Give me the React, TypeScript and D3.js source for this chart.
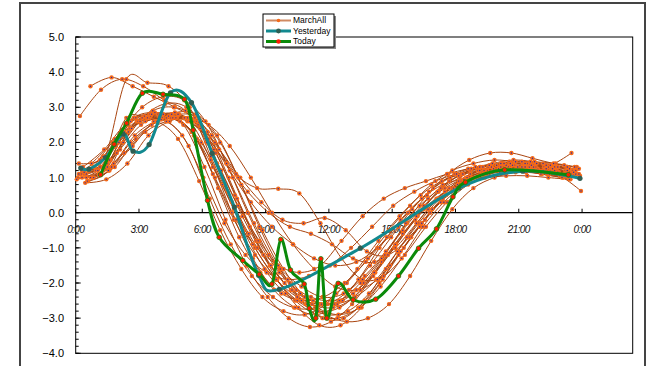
import * as d3 from 'd3';

// hour of day for each x tick (0..24, every 3h) and the label shown
const xTickHours = [0, 3, 6, 9, 12, 15, 18, 21, 24];
const xTickLabels = ['0:00', '3:00', '6:00', '9:00', '12:00', '15:00', '18:00', '21:00', '0:00'];
const yTicks = [5, 4, 3, 2, 1, 0, -1, -2, -3, -4];

// March days: hourly samples, each day shifted by its own offset (hours)
const marchOffsets = [0.5, 0.2, 0.7, 0.4, 0.9, 0.3, 0.6, 0.8, 0.1, 0.55, 0.35, 0.75, 0.45, 0.65, 0.25, 0.85, 0.15, 0.5, 0.95, 0.05, 0.7, 0.4, 0.6, 0.3, 0.85, 0.15];
const marchValues = [
  [1.0, 1.3, 2.3, 2.7, 2.75, 2.3, 1.1, -0.2, -1.2, -1.9, -2.4, -2.6, -2.5, -2.0, -1.3, -0.5, 0.2, 0.7, 1.0, 1.2, 1.3, 1.3, 1.2, 1.1],
  [2.75, 3.5, 3.8, 3.6, 3.2, 2.9, 2.0, 0.6, -0.6, -1.5, -2.2, -2.6, -2.7, -2.4, -1.7, -0.9, -0.1, 0.6, 1.0, 1.3, 1.4, 1.4, 1.3, 1.2],
  [3.6, 3.85, 3.6, 3.3, 3.0, 2.6, 1.4, 0.2, -0.8, -1.6, -2.1, -2.4, -2.3, -1.8, -1.1, -0.3, 0.4, 0.9, 1.2, 1.35, 1.4, 1.35, 1.3, 1.2],
  [1.1, 1.6, 3.8, 3.7, 3.6, 3.0, 1.6, 0.3, -0.9, -1.8, -2.5, -2.9, -3.0, -2.7, -2.0, -1.1, -0.3, 0.4, 0.9, 1.2, 1.35, 1.4, 1.3, 1.25],
  [1.3, 1.9, 2.6, 2.8, 2.8, 2.4, 1.2, -0.1, -1.2, -2.0, -2.6, -2.9, -2.8, -2.3, -1.5, -0.7, 0.1, 0.7, 1.0, 1.2, 1.3, 1.25, 1.15, 1.05],
  [1.2, 1.6, 2.3, 2.6, 2.7, 2.6, 2.1, 1.2, 0.3, -0.4, -0.9, -1.3, -1.5, -1.4, -1.0, -0.4, 0.2, 0.7, 1.1, 1.3, 1.4, 1.4, 1.35, 1.3],
  [0.9, 1.2, 2.0, 2.5, 2.7, 2.6, 2.0, 1.1, 0.7, 0.68, 0.55, -0.3, -1.3, -1.9, -1.8, -1.2, -0.4, 0.3, 0.8, 1.1, 1.25, 1.3, 1.2, 1.1],
  [1.0, 1.4, 2.2, 2.6, 2.7, 2.5, 1.8, 1.0, 0.3, -0.2, -0.3, -0.15, -0.5, -1.1, -1.2, -0.7, 0.0, 0.6, 1.0, 1.25, 1.35, 1.3, 1.2, 1.1],
  [1.0, 1.1, 1.8, 2.5, 2.7, 2.5, 1.3, -0.2, -1.5, -2.4, -3.0, -3.25, -3.1, -2.6, -1.8, -1.0, -0.2, 0.4, 0.8, 1.05, 1.15, 1.2, 1.1, 1.0],
  [0.9, 1.2, 2.4, 2.75, 2.8, 2.6, 1.8, 0.5, -0.8, -1.9, -2.7, -3.2, -3.2, -2.7, -1.9, -1.0, -0.2, 0.5, 1.0, 1.3, 1.45, 1.45, 1.35, 1.2],
  [1.3, 1.8, 2.5, 2.7, 2.6, 1.9, 0.4, -0.9, -1.8, -2.4, -2.7, -2.7, -2.3, -1.6, -0.8, -0.1, 0.5, 0.9, 1.1, 1.2, 1.2, 1.15, 1.1, 1.0],
  [1.4, 2.0, 2.7, 2.85, 2.7, 2.1, 0.7, -0.7, -1.7, -2.3, -2.5, -2.4, -2.0, -1.4, -0.7, 0.0, 0.6, 1.0, 1.25, 1.4, 1.5, 1.45, 1.4, 1.3],
  [0.85, 0.95, 1.4, 2.2, 2.6, 2.7, 2.2, 1.0, -0.3, -1.4, -2.2, -2.7, -2.9, -2.7, -2.1, -1.3, -0.4, 0.3, 0.8, 1.1, 1.2, 1.2, 1.1, 0.95],
  [1.2, 1.5, 2.4, 2.9, 3.0, 2.7, 1.7, 0.4, -0.8, -1.7, -2.3, -2.6, -2.5, -2.0, -1.2, -0.3, 0.5, 1.1, 1.5, 1.7, 1.7, 1.55, 1.4, 1.3],
  [1.1, 1.3, 2.0, 2.75, 3.1, 3.0, 2.3, 1.0, -0.4, -1.5, -2.2, -2.5, -2.6, -2.4, -1.9, -1.1, -0.3, 0.4, 0.9, 1.15, 1.3, 1.3, 1.25, 1.15],
  [1.0, 1.3, 2.1, 2.6, 2.8, 2.7, 2.0, 0.8, -0.5, -1.6, -2.4, -2.9, -3.1, -3.0, -2.6, -1.8, -0.8, 0.1, 0.7, 1.0, 1.15, 1.2, 1.15, 1.1],
  [1.4, 1.5, 2.3, 3.0, 3.3, 3.2, 2.6, 1.4, 0.0, -1.2, -2.0, -2.4, -2.5, -2.3, -1.7, -0.9, -0.1, 0.6, 1.05, 1.3, 1.4, 1.45, 1.4, 1.35],
  [1.1, 1.4, 2.5, 2.8, 2.7, 2.3, 1.3, 0.1, -1.0, -1.9, -2.5, -2.8, -2.7, -2.2, -1.4, -0.6, 0.1, 0.6, 0.9, 1.1, 1.2, 1.3, 1.35, 1.7],
  [1.2, 1.7, 2.6, 2.75, 2.6, 2.0, 0.8, -0.5, -1.6, -2.3, -2.6, -2.6, -2.2, -1.5, -0.7, 0.1, 0.7, 1.1, 1.3, 1.35, 1.3, 1.2, 1.05, 0.62],
  [0.95, 1.2, 2.0, 2.6, 2.65, 2.2, 1.0, -0.3, -1.2, -1.7, -1.9, -1.8, -1.5, -1.0, -0.4, 0.2, 0.6, 0.9, 1.1, 1.2, 1.25, 1.2, 1.1, 1.0],
  [1.0, 1.3, 1.9, 2.6, 2.85, 2.8, 2.2, 1.0, -0.4, -1.6, -2.5, -3.0, -3.0, -2.5, -1.6, -0.7, 0.1, 0.7, 1.1, 1.3, 1.35, 1.3, 1.2, 1.1],
  [1.15, 1.4, 2.7, 2.7, 2.75, 2.6, 1.5, 0.0, -1.3, -2.2, -2.7, -2.9, -2.6, -1.9, -1.0, -0.2, 0.4, 0.8, 0.95, 1.0, 1.05, 1.05, 1.0, 0.95],
  [1.2, 1.5, 2.6, 2.8, 2.7, 2.2, 1.0, -0.2, -1.0, -1.5, -1.7, -1.5, -0.8, -0.1, 0.4, 0.7, 0.9, 1.1, 1.25, 1.35, 1.4, 1.35, 1.25, 1.15],
  [1.0, 1.2, 1.7, 2.3, 2.6, 2.7, 2.5, 1.9, 1.0, 0.0, -0.9, -1.6, -2.1, -2.2, -1.9, -1.2, -0.4, 0.3, 0.8, 1.1, 1.25, 1.3, 1.25, 1.2],
  [1.3, 2.1, 2.7, 2.6, 2.1, 0.9, -0.5, -1.6, -2.4, -2.8, -2.9, -2.6, -2.0, -1.3, -0.5, 0.2, 0.8, 1.2, 1.4, 1.5, 1.45, 1.4, 1.3, 1.25],
  [1.1, 1.3, 2.2, 2.7, 2.8, 2.7, 2.2, 1.4, 0.6, 0.0, -0.4, -0.6, -0.9, -1.3, -1.4, -1.0, -0.3, 0.4, 0.9, 1.2, 1.3, 1.3, 1.2, 1.1],
];

const yesterdayHours = [0.24, 0.63, 1.42, 2.25, 2.72, 3.48, 4.49, 5.49, 6.47, 7.52, 8.67, 9.65, 13.49, 18.16, 21.19, 23.9];
const yesterdayValues = [1.27, 1.24, 1.57, 2.24, 1.75, 1.94, 3.41, 3.13, 1.69, 0.16, -1.78, -2.18, -1.01, 0.7, 1.18, 0.98];

const todayHours = [1.18, 1.82, 2.41, 3.16, 4.14, 5.15, 5.57, 6.25, 6.8, 7.92, 8.7, 9.3, 9.72, 10.18, 10.83, 11.07, 11.38, 11.62, 11.9, 12.44, 13.15, 14.22, 15.3, 16.25, 17.1, 17.88, 18.47, 20.33, 23.35];
const todayValues = [1.08, 1.95, 2.55, 3.4, 3.37, 3.23, 2.35, 0.35, -0.7, -1.36, -1.75, -2.03, -0.76, -1.63, -2.03, -2.72, -3.0, -1.31, -3.0, -2.01, -2.48, -2.46, -1.8, -1.01, -0.46, 0.45, 0.87, 1.22, 1.08];

const legendNames = ['MarchAll', 'Yesterday', 'Today'];

type Pt = { t: number; v: number };

export default function App() {
  const width = 652;
  const height = 366;
  const left = 75.7, right = 632.7, top = 37, bottom = 353.3;

  const x = d3.scaleLinear().domain([0, 26.4]).range([left, right]);
  const y = d3.scaleLinear().domain([-4, 5]).range([bottom, top]);

  const line = d3.line<Pt>()
    .x(d => x(d.t))
    .y(d => y(d.v))
    .curve(d3.curveCardinal.tension(0));

  const march: Pt[][] = marchValues.map((vals, s) =>
    vals.map((v, h) => ({ t: h + marchOffsets[s], v })));
  const yesterday: Pt[] = yesterdayHours.map((t, i) => ({ t, v: yesterdayValues[i] }));
  const today: Pt[] = todayHours.map((t, i) => ({ t, v: todayValues[i] }));

  const fmt = d3.format('.1f');
  const minorTicks = d3.range(-4, 5.001, 0.2);

  const marchLine = '#A9440F';
  const marchDot = '#F46A1A';
  const yestColor = '#12898F';
  const todayColor = '#0A8A0A';
  const font = '"Liberation Sans", Arial, sans-serif';

  const legendRows = [
    { stroke: '#D08A62', w: 2, dot: marchDot, r: 1.8 },
    { stroke: yestColor, w: 3, dot: '#2F5E52', r: 2.4 },
    { stroke: todayColor, w: 3, dot: '#FF1A00', r: 2.2 },
  ];

  return (
    <svg width={width} height={height} style={{ position: 'absolute', left: 0, top: 0, background: '#fff' }}>
      {/* chart area frame */}
      <rect x={20} y={3} width={625} height={380} fill="#fff" stroke="#444" strokeWidth={2} />

      {/* plot area */}
      <rect x={left} y={top} width={right - left} height={bottom - top} fill="#fff" stroke="#000" strokeWidth={1} />

      {/* y axis ticks */}
      {minorTicks.map((v, i) => (
        <line key={'m' + i} x1={left} x2={left + 3} y1={y(v)} y2={y(v)} stroke="#000" />
      ))}
      {yTicks.map(v => (
        <g key={'y' + v}>
          <line x1={left} x2={left + 5} y1={y(v)} y2={y(v)} stroke="#000" />
          <text x={64} y={y(v)} dy="0.36em" textAnchor="end" fontSize={11} fontFamily={font} fill="#000">
            {fmt(v)}
          </text>
        </g>
      ))}

      {/* x axis at zero */}
      <line x1={left} x2={right} y1={y(0)} y2={y(0)} stroke="#000" strokeWidth={1.2} />
      {xTickHours.map((h, i) => (
        <g key={'x' + i}>
          <line x1={x(h)} x2={x(h)} y1={y(0)} y2={y(0) - 4} stroke="#000" />
          <text x={x(h)} y={y(0) + 20} textAnchor="middle" fontSize={10} fontStyle="italic"
            letterSpacing={-0.6} fontFamily={font} fill="#111">
            {xTickLabels[i]}
          </text>
        </g>
      ))}

      {/* March days */}
      {march.map((pts, s) => (
        <path key={'ml' + s} d={line(pts) ?? ''} fill="none" stroke={marchLine} strokeWidth={1} />
      ))}
      {march.map((pts, s) => (
        <g key={'mp' + s}>
          {pts.map((p, i) => (
            <g key={i}>
              <circle cx={x(p.t)} cy={y(p.v)} r={2.2} fill={marchDot} />
              <circle cx={x(p.t)} cy={y(p.v)} r={0.7} fill="#2A2AA8" />
            </g>
          ))}
        </g>
      ))}

      {/* Yesterday */}
      <path d={line(yesterday) ?? ''} fill="none" stroke={yestColor} strokeWidth={3} />
      {yesterday.map((p, i) => (
        <circle key={'yd' + i} cx={x(p.t)} cy={y(p.v)} r={2.6} fill="#2F5E52" />
      ))}

      {/* Today */}
      <path d={line(today) ?? ''} fill="none" stroke={todayColor} strokeWidth={3} />
      {today.map((p, i) => (
        <circle key={'td' + i} cx={x(p.t)} cy={y(p.v)} r={2.3} fill="#FF1A00" stroke={todayColor} strokeWidth={0.8} />
      ))}

      {/* legend */}
      <rect x={265} y={16} width={71} height={33} fill="#888" />
      <rect x={263} y={14} width={71} height={33} fill="#fff" stroke="#000" strokeWidth={1} />
      {legendNames.map((name, i) => {
        const ly = 20.5 + i * 10.5;
        const r = legendRows[i];
        return (
          <g key={name}>
            <line x1={266} x2={291} y1={ly} y2={ly} stroke={r.stroke} strokeWidth={r.w} />
            <circle cx={278.5} cy={ly} r={r.r} fill={r.dot} />
            <text x={293} y={ly} dy="0.35em" fontSize={8.5} fontFamily={font} fill="#000">{name}</text>
          </g>
        );
      })}
    </svg>
  );
}
